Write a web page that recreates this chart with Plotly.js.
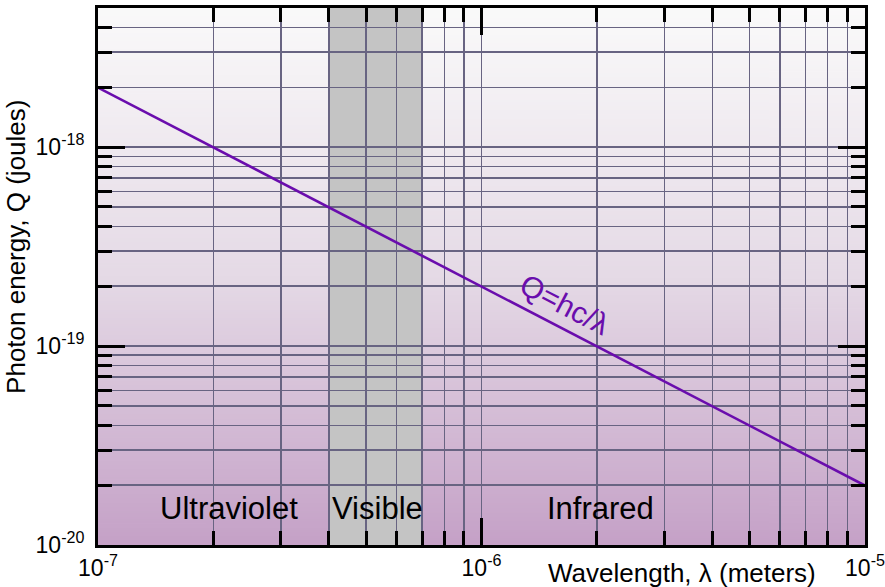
<!DOCTYPE html>
<html>
<head>
<meta charset="utf-8">
<script src="https://cdn.plot.ly/plotly-3.0.1.min.js"></script>
<style>
  html, body { margin: 0; padding: 0; background: #ffffff; }
  #chart { width: 885px; height: 587px; }
</style>
</head>
<body>
<div id="chart"></div>
<script>
// ---- data ----
const wavelength = [1e-7, 1e-6, 1e-5];              // metres
const photonEnergy = [1.99e-18, 1.99e-19, 1.99e-20]; // joules
const visibleBand = [4e-7, 7e-7];                   // metres
const xTickVals = [1e-7, 1e-6, 1e-5];
const xTickText = ['10<sup>-7</sup>', '10<sup>-6</sup>', '10<sup>-5</sup>'];
const yTickVals = [1e-20, 1e-19, 1e-18];
const yTickText = ['10<sup>-20</sup>', '10<sup>-19</sup>', '10<sup>-18</sup>'];
const regionLabels = ['Ultraviolet', 'Visible', 'Infrared'];

// vertical gradient background image
function gradientURL() {
  const c = document.createElement('canvas');
  c.width = 4; c.height = 512;
  const g = c.getContext('2d');
  const lg = g.createLinearGradient(0, 0, 0, 512);
  lg.addColorStop(0, 'rgb(250,250,250)');
  lg.addColorStop(0.5, 'rgb(229,218,230)');
  lg.addColorStop(1, 'rgb(197,161,199)');
  g.fillStyle = lg;
  g.fillRect(0, 0, 4, 512);
  return c.toDataURL('image/png');
}

const FONT = 'Liberation Sans, Arial, Helvetica, sans-serif';
const gridColor = 'rgb(104,100,130)';
const purple = 'rgb(106,13,173)';

const axisCommon = {
  type: 'log',
  ticks: 'inside',
  ticklen: 27,
  tickwidth: 3,
  tickcolor: '#000',
  showline: true,
  linecolor: '#000',
  linewidth: 3,
  mirror: 'ticks',
  showgrid: true,
  gridcolor: gridColor,
  gridwidth: 1.3,
  zeroline: false,
  tickfont: { family: FONT, size: 23, color: '#000' },
  minor: {
    dtick: 'D1',
    ticks: 'inside',
    ticklen: 14,
    tickwidth: 3,
    tickcolor: '#000',
    showgrid: true,
    gridcolor: gridColor,
    gridwidth: 1.3
  }
};

const trace = {
  x: wavelength,
  y: photonEnergy,
  type: 'scatter',
  mode: 'lines',
  line: { color: purple, width: 2.6 },
  hoverinfo: 'skip',
  showlegend: false
};

const labelFont = { family: FONT, size: 31, color: '#000' };

const layout = {
  width: 885,
  height: 587,
  margin: { l: 98, r: 20, t: 8, b: 42 },
  paper_bgcolor: '#ffffff',
  plot_bgcolor: 'rgba(0,0,0,0)',
  showlegend: false,
  xaxis: Object.assign({}, axisCommon, {
    range: [-7, -5],
    tickvals: xTickVals,
    ticktext: xTickText,
    ticklabelstandoff: 0
  }),
  yaxis: Object.assign({}, axisCommon, {
    range: [-20, Math.log10(5e-18)],
    tickvals: yTickVals,
    ticktext: yTickText,
    ticklabelstandoff: 6
  }),
  images: [{
    source: gradientURL(),
    xref: 'paper', yref: 'paper',
    x: 0, y: 1, sizex: 1, sizey: 1,
    sizing: 'stretch',
    xanchor: 'left', yanchor: 'top',
    layer: 'below'
  }],
  shapes: [{
    type: 'rect',
    xref: 'x', yref: 'paper',
    x0: visibleBand[0], x1: visibleBand[1],
    y0: 0, y1: 1,
    fillcolor: 'rgb(196,196,196)',
    line: { width: 0 },
    layer: 'below'
  }],
  annotations: [
    { text: regionLabels[0], xref: 'x', yref: 'y', x: -6.658, y: -19.815,
      xanchor: 'center', yanchor: 'middle', showarrow: false, font: labelFont },
    { text: regionLabels[1], xref: 'x', yref: 'y', x: -6.2725, y: -19.815,
      xanchor: 'center', yanchor: 'middle', showarrow: false, font: labelFont },
    { text: regionLabels[2], xref: 'x', yref: 'y', x: -5.691, y: -19.815,
      xanchor: 'center', yanchor: 'middle', showarrow: false, font: labelFont },
    { text: 'Q=hc/λ', xref: 'x', yref: 'y', x: -5.782, y: -18.79,
      xanchor: 'center', yanchor: 'middle', showarrow: false, textangle: 27.5,
      font: { family: FONT, size: 30, color: purple } },
    { text: 'Wavelength, λ (meters)', xref: 'paper', yref: 'paper',
      x: 0.939, y: -0.052, xanchor: 'right', yanchor: 'middle', showarrow: false,
      font: { family: FONT, size: 26, color: '#000' } },
    { text: 'Photon energy, Q (joules)', xref: 'paper', yref: 'paper',
      x: -0.107, y: 0.555, xanchor: 'center', yanchor: 'middle',
      showarrow: false, textangle: -90,
      font: { family: FONT, size: 26, color: '#000' } }
  ]
};

Plotly.newPlot('chart', [trace], layout, { staticPlot: true, displayModeBar: false });
</script>
</body>
</html>
